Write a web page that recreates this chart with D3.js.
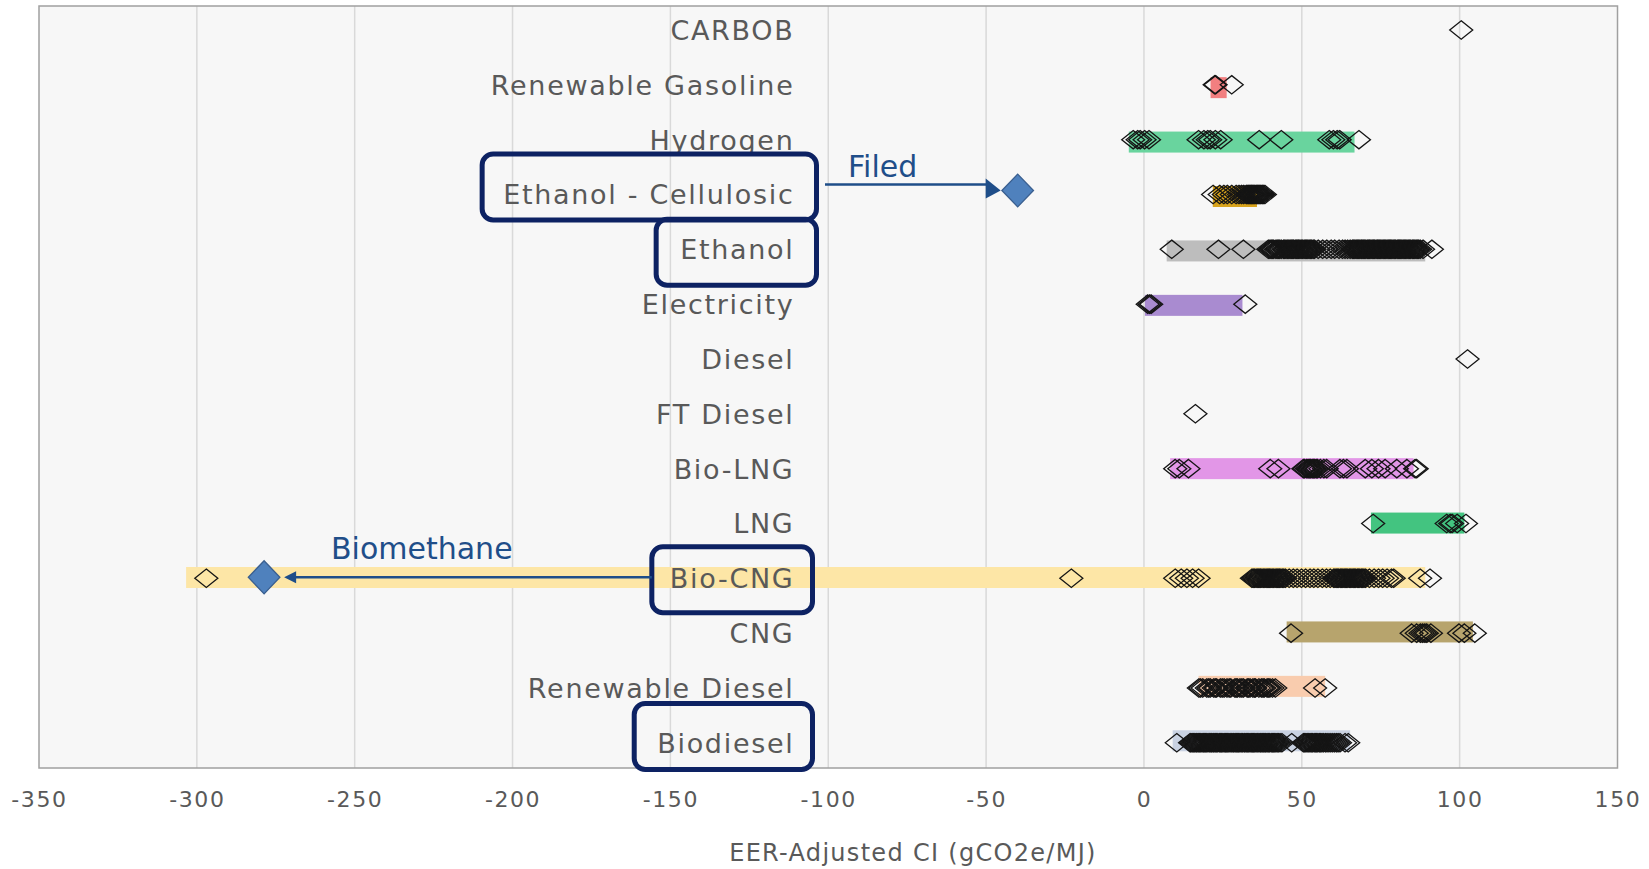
<!DOCTYPE html>
<html>
<head>
<meta charset="utf-8">
<script src="https://cdn.jsdelivr.net/npm/d3@7"></script>
<style>
  html, body { margin: 0; padding: 0; background: #ffffff; }
  svg { display: block; }
</style>
</head>
<body>
<svg id="chart" width="1649" height="869"></svg>
<script>
// ---------------- DATA ----------------
const categories = ["CARBOB", "Renewable Gasoline", "Hydrogen", "Ethanol - Cellulosic", "Ethanol",
  "Electricity", "Diesel", "FT Diesel", "Bio-LNG", "LNG", "Bio-CNG", "CNG", "Renewable Diesel", "Biodiesel"];

// range bars (low / high CI per fuel), null = no bar
const rangeLow  = [null, 21.1, -4.8, 21.8, 7.2, 0.3, null, null, 8.3, 71.9, -303.4, 45.2, 17.3, 9.1];
const rangeHigh = [null, 26.2, 66.7, 35.8, 89.1, 31.2, null, null, 85.4, 101.5, 89.1, 104.2, 57.4, 65.3];

const xTickValues = [-350, -300, -250, -200, -150, -100, -50, 0, 50, 100, 150];

// individual pathway CIs
const ciCARBOB = [100.5];
const ciRenewableGasoline = [22.4, 22.7, 27.8];
const ciHydrogen = [-3.4, -2.0, -1.2, 0.2, 1.6, 17.3, 19.0, 20.2, 21.0, 22.6, 24.3, 36.5, 43.5, 58.7, 60.0, 61.2, 62.0, 68.1];
const ciEthanolCellulosic = [21.9, 24.0, 25.3, 26.4, 27.8, 29.2, 30.1, 30.9, 31.6, 32.4, 32.7, 33.1, 33.4, 33.8, 34.0,
  34.3, 34.6, 34.9, 35.2, 35.6, 35.9, 36.2, 36.5, 36.8, 37.1, 37.5, 37.8, 38.3];
const ciEthanol = [8.8, 23.6, 31.5, 39.4, 39.9, 40.3, 40.7, 41.1, 41.8, 42.2, 42.6, 43.0, 43.5, 44.2, 44.6, 45.0, 45.5,
  45.9, 46.3, 46.7, 47.1, 47.4, 47.9, 48.3, 48.7, 49.0, 49.4, 49.8, 50.2, 50.7, 51.1, 51.5, 51.9, 52.3, 52.7, 53.1,
  53.6, 54.0, 55.2, 56.6, 57.9, 59.3, 60.4, 61.8, 62.9, 63.7, 64.5, 65.3, 66.0, 66.4, 66.8, 67.2, 67.6, 68.0, 68.4,
  68.8, 69.1, 69.5, 69.9, 70.3, 70.8, 71.2, 71.5, 71.9, 72.3, 72.7, 73.0, 73.5, 73.9, 74.2, 74.6, 75.0, 75.4, 75.8,
  76.2, 76.6, 77.0, 77.4, 77.8, 78.1, 78.5, 78.9, 79.3, 79.7, 80.2, 80.6, 80.9, 81.3, 81.7, 82.1, 82.5, 82.9, 83.3,
  83.7, 84.1, 84.5, 85.0, 85.4, 85.8, 86.2, 86.6, 87.0, 87.5, 88.4, 91.2];
const ciElectricity = [1.2, 1.8, 2.3, 32.1];
const ciDiesel = [102.5];
const ciFTDiesel = [16.3];
const ciBioLNG = [9.9, 11.2, 14.1, 40.0, 42.6, 50.5, 50.9, 51.6, 52.0, 52.4, 52.8, 53.3, 53.7, 54.1, 54.6, 55.0, 55.9,
  57.0, 57.9, 62.1, 63.2, 64.3, 70.1, 72.2, 74.3, 76.4, 80.1, 83.3, 85.9, 86.4];
const ciLNG = [72.6, 95.9, 97.0, 97.6, 99.2, 102.0];
const ciBioCNG = [-297.0, -23.0, 9.9, 11.8, 13.6, 15.4, 17.3, 34.2, 34.6, 35.0, 35.5, 35.9, 36.3, 36.7, 37.0, 37.4,
  37.9, 38.3, 38.7, 39.1, 39.5, 39.8, 40.2, 40.6, 41.0, 41.5, 41.9, 42.3, 42.7, 43.0, 43.4, 43.9, 44.3, 44.8, 46.0,
  47.3, 48.5, 49.9, 51.2, 52.6, 53.8, 55.1, 56.5, 57.8, 59.0, 60.1, 60.5, 60.9, 61.3, 61.7, 62.2, 62.6, 63.0, 63.4,
  63.8, 64.2, 64.6, 65.1, 65.5, 65.9, 66.3, 66.7, 67.1, 67.6, 68.0, 68.4, 68.9, 69.3, 69.7, 70.2, 71.4, 72.9, 74.3,
  75.6, 77.0, 78.4, 79.1, 87.5, 90.6];
const ciCNG = [46.6, 84.8, 86.4, 87.6, 88.3, 89.0, 89.6, 90.9, 99.8, 101.5, 104.8];
const ciRenewableDiesel = [17.4, 17.9, 18.6, 19.9, 20.5, 21.0, 22.1, 22.6, 23.0, 24.2, 24.8, 25.4, 26.3, 27.0, 27.5,
  28.8, 29.2, 29.6, 30.4, 31.0, 31.5, 32.7, 33.1, 33.6, 34.5, 35.0, 35.3, 36.4, 37.2, 37.7, 38.1, 39.0, 39.4, 39.9,
  40.7, 41.6, 54.2, 57.4];
const ciBiodiesel = [10.4, 14.6, 14.9, 15.3, 15.7, 16.1, 16.5, 16.8, 17.2, 17.6, 18.0, 18.4, 18.8, 19.1, 19.5, 19.9,
  20.3, 20.8, 21.2, 21.5, 21.9, 22.2, 22.6, 23.0, 23.4, 23.9, 24.3, 24.6, 25.0, 25.4, 25.8, 26.1, 26.5, 26.9, 27.3,
  27.8, 28.2, 28.5, 28.9, 29.3, 29.7, 30.0, 30.4, 30.8, 31.2, 31.7, 32.0, 32.4, 32.8, 33.2, 33.6, 34.0, 34.4, 34.7,
  35.1, 35.5, 35.9, 36.4, 36.8, 37.1, 37.5, 37.9, 38.3, 38.6, 39.0, 39.4, 39.8, 40.3, 40.7, 41.0, 41.4, 41.8, 42.2,
  42.6, 43.1, 43.7, 46.8, 50.5, 50.9, 51.3, 51.7, 52.2, 52.6, 53.0, 53.4, 53.9, 54.3, 54.7, 55.1, 55.6, 56.0, 56.4,
  56.9, 57.5, 58.0, 58.6, 59.2, 59.8, 60.4, 61.0, 61.5, 62.1, 63.7, 64.7];

const pointSeries = [ciCARBOB, ciRenewableGasoline, ciHydrogen, ciEthanolCellulosic, ciEthanol, ciElectricity,
  ciDiesel, ciFTDiesel, ciBioLNG, ciLNG, ciBioCNG, ciCNG, ciRenewableDiesel, ciBiodiesel];

// annotations
const filedCategory = "Ethanol - Cellulosic";
const filedCI = -40.0;
const filedLabel = "Filed";
const biomethaneCategory = "Bio-CNG";
const biomethaneCI = -278.7;
const biomethaneLabel = "Biomethane";
const highlightedCategories = ["Ethanol - Cellulosic", "Ethanol", "Bio-CNG", "Biodiesel"];
const axisTitle = "EER-Adjusted CI (gCO2e/MJ)";

// ---------------- STYLE ----------------
const barColors = [null, "#f27f80", "#69d49e", "#d8a31c", "#bdbdbd", "#a98bd0", null, null, "#e296e7",
  "#43c480", "#fde6a6", "#b7a46d", "#f9ccae", "#c9d2e2"];
const boxLayout = {
  "Ethanol - Cellulosic": {dy: -7.5, padL: 21, padR: 22},
  "Ethanol": {dy: 3, padL: 24, padR: 22},
  "Bio-CNG": {dy: 1.5, padL: 18, padR: 18},
  "Biodiesel": {dy: -6.3, padL: 23, padR: 18}
};

const W = 1649, H = 869;
const plot = {left: 39, right: 1617.5, top: 6, bottom: 768};
const font = "DejaVu Sans";
const annColor = "#1f4e89";
const boxColor = "#0d2263";

const svg = d3.select("#chart");

const x = d3.scaleLinear().domain([-350, 150]).range([plot.left, plot.right]);
const yBar = d3.scaleBand().domain(categories).range([plot.top, plot.bottom]);
const yPt = d3.scalePoint().domain(categories).range([30, 742.8]);

// plot background
svg.append("rect").attr("x", plot.left).attr("y", plot.top)
  .attr("width", plot.right - plot.left).attr("height", plot.bottom - plot.top)
  .attr("fill", "#f7f7f7");

// gridlines
svg.append("g").selectAll("line")
  .data(xTickValues.filter(v => v > -350 && v < 150))
  .join("line")
  .attr("x1", d => x(d)).attr("x2", d => x(d))
  .attr("y1", plot.top).attr("y2", plot.bottom)
  .attr("stroke", "#d9d9d9").attr("stroke-width", 1.5);

// x axis tick labels
const xAxis = d3.axisBottom(x).tickValues(xTickValues).tickSize(0).tickPadding(0).tickFormat(d => String(d));
const gx = svg.append("g").attr("transform", `translate(0, ${plot.bottom})`).call(xAxis);
gx.select(".domain").remove();
gx.selectAll("text")
  .attr("y", 39).attr("dy", 0)
  .attr("font-family", font).attr("font-size", 22)
  .attr("letter-spacing", "1.6px")
  .attr("fill", "#595959");

// axis title
svg.append("text").attr("x", 913).attr("y", 861)
  .attr("text-anchor", "middle")
  .attr("font-family", font).attr("font-size", 24).attr("letter-spacing", "1.3px")
  .attr("fill", "#595959").text(axisTitle);

// range bars
const barData = categories.map((c, i) => ({c, lo: rangeLow[i], hi: rangeHigh[i], color: barColors[i]}))
  .filter(d => d.lo !== null);
svg.append("g").selectAll("rect").data(barData).join("rect")
  .attr("x", d => x(d.lo))
  .attr("width", d => x(d.hi) - x(d.lo))
  .attr("y", d => yBar(d.c) + yBar.bandwidth() / 2 - 10.5)
  .attr("height", 21)
  .attr("fill", d => d.color);

// category labels
const labelRight = 794.5;
const labels = svg.append("g").selectAll("text").data(categories).join("text")
  .attr("x", labelRight)
  .attr("y", d => yPt(d) + 10)
  .attr("text-anchor", "end")
  .attr("font-family", font).attr("font-size", 27).attr("letter-spacing", "1.7px")
  .attr("fill", "#595959")
  .text(d => d);

// plot border
svg.append("rect").attr("x", plot.left).attr("y", plot.top)
  .attr("width", plot.right - plot.left).attr("height", plot.bottom - plot.top)
  .attr("fill", "none").attr("stroke", "#a0a0a0").attr("stroke-width", 1.5);

// diamonds
const dw = 11.5, dh = 9.2;
const diamond = (w, h) => `M0,${-h}L${w},0L0,${h}L${-w},0Z`;
const pts = [];
categories.forEach((c, i) => pointSeries[i].forEach(v => pts.push({c, v})));
svg.append("g").selectAll("path").data(pts).join("path")
  .attr("d", diamond(dw, dh))
  .attr("transform", d => `translate(${x(d.v)},${yPt(d.c)})`)
  .attr("fill", "none")
  .attr("stroke", "#151515")
  .attr("stroke-width", 1.3);

// highlight boxes
const boxH = 66;
highlightedCategories.forEach(c => {
  const node = labels.filter(d => d === c).node();
  const bb = node.getBBox();
  const L = boxLayout[c];
  const left = bb.x - L.padL;
  const right = labelRight + L.padR;
  const cy = yPt(c) + L.dy;
  svg.append("rect")
    .attr("x", left).attr("y", cy - boxH / 2)
    .attr("width", right - left).attr("height", boxH)
    .attr("rx", 11).attr("ry", 11)
    .attr("fill", "none").attr("stroke", boxColor).attr("stroke-width", 5);
});

// "Filed" annotation
const filedY = yPt(filedCategory) - 4;
const fx = x(filedCI);
svg.append("line")
  .attr("x1", 825).attr("x2", fx - 31).attr("y1", filedY - 6).attr("y2", filedY - 6)
  .attr("stroke", annColor).attr("stroke-width", 2.5);
svg.append("path")
  .attr("d", `M${fx - 32},${filedY - 12}L${fx - 17},${filedY}L${fx - 32},${filedY + 8}Z`)
  .attr("fill", annColor);
svg.append("text").attr("x", 848).attr("y", 177)
  .attr("font-family", font).attr("font-size", 30).attr("fill", annColor).text(filedLabel);
svg.append("path")
  .attr("d", diamond(15.8, 16.4))
  .attr("transform", `translate(${fx},${filedY})`)
  .attr("fill", "#4f81bd").attr("stroke", "#3a5f8f").attr("stroke-width", 1.3);

// "Biomethane" annotation
const bY = yPt(biomethaneCategory) - 1;
const bx = x(biomethaneCI);
const bioBox = labels.filter(d => d === biomethaneCategory).node().getBBox();
svg.append("line")
  .attr("x1", bioBox.x - boxLayout[biomethaneCategory].padL).attr("x2", bx + 30).attr("y1", bY).attr("y2", bY)
  .attr("stroke", annColor).attr("stroke-width", 2.5);
svg.append("path")
  .attr("d", `M${bx + 20},${bY}L${bx + 32},${bY - 6}L${bx + 32},${bY + 6}Z`)
  .attr("fill", annColor);
svg.append("text").attr("x", 331).attr("y", 558.5)
  .attr("font-family", font).attr("font-size", 30).attr("fill", annColor).text(biomethaneLabel);
svg.append("path")
  .attr("d", diamond(15.8, 16.6))
  .attr("transform", `translate(${bx},${bY})`)
  .attr("fill", "#4f81bd").attr("stroke", "#3a5f8f").attr("stroke-width", 1.3);
</script>
</body>
</html>
